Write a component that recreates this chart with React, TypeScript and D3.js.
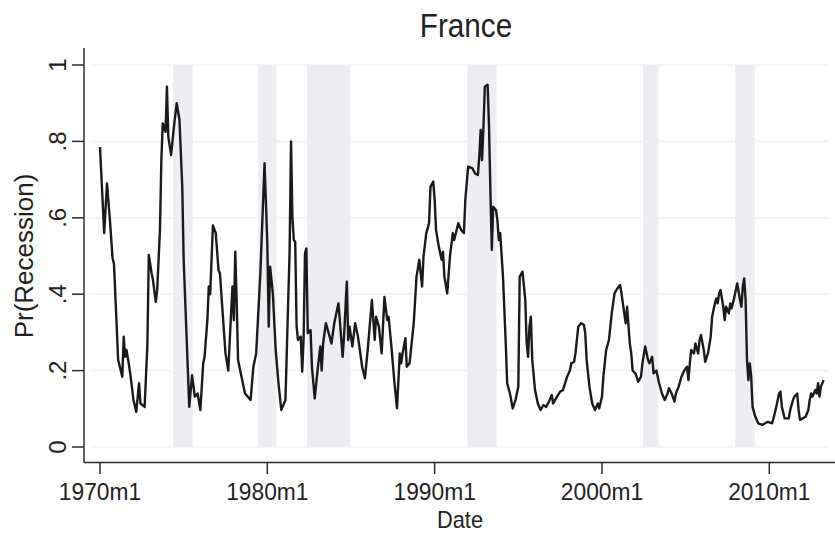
import React from 'react';
import * as d3 from 'd3';

const monthIndex = [
  0, 3, 5, 7, 9, 10, 12, 13, 16, 17, 18, 19, 21, 23, 24, 26, 28, 29, 32, 34, 35, 37, 38, 40, 41, 43, 44, 45, 47, 48, 49,
  51, 53, 55, 57, 59, 60, 62, 64, 66, 68, 70, 72, 74, 75, 77, 78, 79, 81, 83, 85, 86, 88, 90, 92, 94, 95, 96, 97, 98, 99,
  102, 104, 108, 110, 112, 115, 118, 119, 120, 121, 122, 124, 126, 128, 130, 133, 134, 136, 137, 138, 139, 140, 141, 142,
  144, 145, 146, 147, 148, 149, 151, 152, 154, 156, 158, 159, 160, 162, 164, 166, 168, 170, 171, 172, 174, 175, 177, 178,
  179, 181, 183, 185, 188, 190, 192, 195, 197, 198, 200, 202, 204, 206, 207, 209, 211, 213, 215, 216, 217, 219, 220, 222,
  225, 227, 229, 231, 232, 234, 236, 237, 239, 240, 241, 243, 245, 246, 247, 249, 251, 253, 254, 257, 259, 261, 262, 264,
  267, 269, 271, 272, 273, 274, 275, 276, 278, 279, 280, 281, 282, 284, 285, 286, 287, 289, 291, 292, 294, 296, 298, 300,
  301, 303, 305, 306, 307, 308, 309, 310, 312, 314, 316, 318, 320, 322, 324, 325, 327, 330, 332, 335, 337, 338, 340, 341,
  343, 345, 347, 348, 349, 351, 353, 355, 357, 358, 360, 361, 363, 365, 367, 369, 371, 373, 374, 376, 377, 378, 380, 381,
  382, 384, 386, 388, 389, 391, 393, 394, 396, 397, 399, 401, 403, 405, 407, 408, 410, 412, 413, 415, 417, 419, 421, 422,
  423, 424, 426, 427, 429, 430, 431, 433, 434, 436, 438, 439, 441, 442, 443, 444, 445, 447, 448, 449, 451, 452, 453, 455,
  456, 457, 459, 460, 461, 462, 463, 464, 465, 466, 467, 468, 470, 472, 475, 477, 479, 482, 483, 485, 487, 488, 489, 491,
  494, 495, 497, 498, 500, 501, 502, 504, 506, 508, 509, 510, 511, 513, 514, 515, 516, 517, 519,
];

const prRecession = [
  0.785, 0.56, 0.69, 0.6, 0.495, 0.48, 0.315, 0.228, 0.184, 0.289, 0.236, 0.254, 0.21, 0.154, 0.123, 0.092, 0.167, 0.114,
  0.105, 0.27, 0.503, 0.455, 0.437, 0.38, 0.41, 0.568, 0.751, 0.847, 0.825, 0.943, 0.812,
  0.764, 0.838, 0.9, 0.856, 0.681, 0.49, 0.298, 0.105, 0.188, 0.132, 0.14, 0.097, 0.219, 0.236, 0.332, 0.42, 0.4, 0.58,
  0.56, 0.463, 0.455, 0.35, 0.245, 0.2, 0.35, 0.42, 0.332, 0.511, 0.385, 0.228,
  0.175, 0.14, 0.123, 0.21, 0.245, 0.455, 0.743, 0.64, 0.53, 0.315, 0.472, 0.4, 0.254, 0.167, 0.097, 0.123, 0.254, 0.516,
  0.8, 0.6, 0.542, 0.537, 0.315, 0.28,
  0.289, 0.197, 0.28, 0.507, 0.52, 0.298, 0.306, 0.21, 0.127, 0.2, 0.263, 0.2, 0.271, 0.324, 0.298, 0.271, 0.324, 0.359,
  0.376, 0.332, 0.236, 0.289, 0.433, 0.28,
  0.315, 0.263, 0.324, 0.289, 0.21, 0.18, 0.254, 0.385, 0.28, 0.341, 0.315, 0.245, 0.393, 0.332, 0.341, 0.263, 0.175,
  0.101, 0.245, 0.219, 0.245, 0.285, 0.21, 0.219,
  0.324, 0.446, 0.49, 0.42, 0.498, 0.56, 0.586, 0.681, 0.695, 0.647, 0.568, 0.524, 0.49, 0.511, 0.446, 0.402, 0.5, 0.56,
  0.542, 0.586, 0.568, 0.56, 0.647, 0.734,
  0.73, 0.716, 0.712, 0.76, 0.83, 0.751, 0.838, 0.943, 0.948, 0.838, 0.664, 0.516, 0.629, 0.62, 0.594, 0.542, 0.56, 0.446,
  0.271, 0.167, 0.14, 0.101, 0.123, 0.158,
  0.446, 0.459, 0.385, 0.271, 0.236, 0.315, 0.341, 0.228, 0.149, 0.114, 0.097, 0.11, 0.105, 0.119, 0.136, 0.114, 0.127,
  0.145, 0.149, 0.184, 0.2, 0.219, 0.223, 0.245,
  0.315, 0.324, 0.32, 0.298, 0.228, 0.158, 0.114, 0.097, 0.114, 0.101, 0.132, 0.184, 0.254, 0.28, 0.35, 0.402, 0.415,
  0.424, 0.402, 0.35, 0.324, 0.367, 0.27, 0.245,
  0.2, 0.193, 0.171, 0.184, 0.219, 0.263, 0.228, 0.219, 0.236, 0.193, 0.2, 0.167, 0.14, 0.123, 0.14, 0.154, 0.14, 0.119,
  0.14, 0.158, 0.184, 0.2, 0.21, 0.175,
  0.219, 0.254, 0.245, 0.271, 0.245, 0.28, 0.293, 0.254, 0.223, 0.245, 0.289, 0.341, 0.376, 0.389, 0.376, 0.402, 0.411,
  0.367, 0.332, 0.367, 0.35, 0.376, 0.363, 0.393,
  0.411, 0.428, 0.385, 0.367, 0.42, 0.441, 0.385, 0.228, 0.175, 0.219, 0.184, 0.105, 0.079, 0.062, 0.058, 0.062, 0.066,
  0.062, 0.075, 0.105, 0.14, 0.145, 0.105, 0.075,
  0.075, 0.097, 0.123, 0.132, 0.14, 0.097, 0.071, 0.075, 0.079, 0.097, 0.123, 0.14, 0.132, 0.149, 0.14, 0.167, 0.132,
  0.158, 0.175,
];

// Recession periods (shaded)
const recessionStart = ['1974m6', '1979m7', '1982m6', '1992m1', '2002m7', '2008m1'];
const recessionEnd = ['1975m7', '1980m7', '1984m12', '1993m9', '2003m5', '2009m2'];

const xTickLabels = ['1970m1', '1980m1', '1990m1', '2000m1', '2010m1'];
const yTickValues = [0, 0.2, 0.4, 0.6, 0.8, 1];
const yTickLabels = ['0', '.2', '.4', '.6', '.8', '1'];

const parseMonth = (s: string) => {
  const [y, m] = s.split('m').map(Number);
  return (y - 1970) * 12 + (m - 1);
};

const FONT = '"Liberation Sans", Arial, Helvetica, sans-serif';

export default function App() {
  const W = 835;
  const H = 533;
  const x = d3.scaleLinear().domain([0, 480]).range([100, 769.3]);
  const y = d3.scaleLinear().domain([0, 1]).range([447, 65]);

  const data = monthIndex.map((m, i) => ({ m, v: prRecession[i] }));
  const line = d3
    .line<{ m: number; v: number }>()
    .x((d) => x(d.m))
    .y((d) => y(d.v));

  const axisX = 84;
  const axisY = 462.5;
  const axisColor = '#2b2b2b';

  return (
    <svg
      width={W}
      height={H}
      style={{ position: 'absolute', left: 0, top: 0, background: '#fff' }}
      fontFamily={FONT}
    >
      <rect x={0} y={0} width={W} height={H} fill="#fff" />
      {/* recession shading */}
      {recessionStart.map((s, i) => {
        const x0 = x(parseMonth(s) - 0.5);
        const x1 = x(parseMonth(recessionEnd[i]) + 0.5);
        return (
          <rect key={s} x={x0} y={y(1)} width={x1 - x0} height={y(0) - y(1)} fill="#ededf2" />
        );
      })}
      {/* gridlines */}
      {yTickValues.map((t) => (
        <line key={t} x1={90} x2={828} y1={y(t)} y2={y(t)} stroke="#efefef" strokeWidth={1.2} />
      ))}
      {/* series */}
      <path d={line(data) || ''} fill="none" stroke="#1a1a1a" strokeWidth={2.4} strokeLinejoin="round" />
      {/* y axis */}
      <line x1={axisX} x2={axisX} y1={48} y2={axisY} stroke={axisColor} strokeWidth={1.5} />
      {yTickValues.map((t, i) => (
        <g key={t}>
          <line x1={72} x2={axisX} y1={y(t)} y2={y(t)} stroke={axisColor} strokeWidth={1.5} />
          <text
            transform={`translate(66,${y(t)}) rotate(-90)`}
            textAnchor="middle"
            fontSize={24}
            fill="#222"
          >
            {yTickLabels[i]}
          </text>
        </g>
      ))}
      <text
        transform={`translate(33,${(y(0) + y(1)) / 2}) rotate(-90)`}
        textAnchor="middle"
        fontSize={26}
        fill="#222"
      >
        Pr(Recession)
      </text>
      {/* x axis */}
      <line x1={axisX} x2={835} y1={axisY} y2={axisY} stroke={axisColor} strokeWidth={1.5} />
      {xTickLabels.map((lab, i) => {
        const tx = x(i * 120);
        return (
          <g key={lab}>
            <line x1={tx} x2={tx} y1={axisY} y2={474} stroke={axisColor} strokeWidth={1.5} />
            <text
              transform={`translate(${tx},500) scale(0.95,1)`}
              textAnchor="middle"
              fontSize={24}
              fill="#222"
            >
              {lab}
            </text>
          </g>
        );
      })}
      <text transform="translate(460,528) scale(0.95,1)" textAnchor="middle" fontSize={23} fill="#222">
        Date
      </text>
      {/* title */}
      <text transform="translate(466,37) scale(0.9,1)" textAnchor="middle" fontSize={33} fill="#222">
        France
      </text>
    </svg>
  );
}
